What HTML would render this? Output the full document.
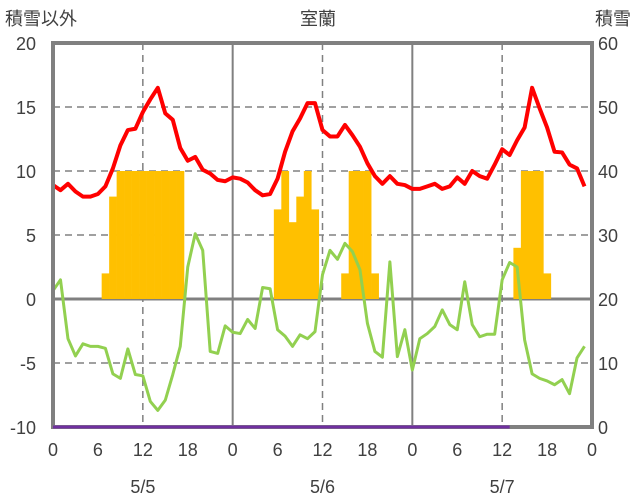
<!DOCTYPE html>
<html><head><meta charset="utf-8"><style>
body{margin:0;background:#fff;}
svg{display:block;font-family:"Liberation Sans","Noto Sans CJK JP",sans-serif;}
</style></head><body>
<svg id="chart" width="636" height="501" viewBox="0 0 636 501">
<text x="5" y="25" font-size="18" fill="#404040">積雪以外</text>
<text x="318" y="25" font-size="18" fill="#404040" text-anchor="middle">室蘭</text>
<text x="631" y="25" font-size="18" fill="#404040" text-anchor="end">積雪</text>
<g id="grid"></g><g id="bars"></g><g id="lines"></g><g id="frame"></g><g id="labels"></g>
</svg>
<script>
const temp=[8.9,8.5,9.0,8.4,8.0,8.0,8.2,8.8,10.2,12.0,13.2,13.3,14.6,15.6,16.5,14.5,14.0,11.8,10.8,11.1,10.1,9.8,9.3,9.2,
9.5,9.4,9.1,8.5,8.1,8.2,9.4,11.5,13.1,14.1,15.3,15.3,13.2,12.7,12.7,13.6,12.8,11.9,10.6,9.6,9.0,9.6,9.0,8.9,
8.6,8.6,8.8,9.0,8.6,8.8,9.5,9.0,10.0,9.6,9.4,10.5,11.7,11.25,12.4,13.4,16.5,14.9,13.4,11.5,11.45,10.5,10.2,8.8];
const other=[0.65,1.5,-3.1,-4.45,-3.5,-3.7,-3.7,-3.85,-5.85,-6.2,-3.9,-5.9,-6.0,-8.0,-8.7,-7.9,-5.9,-3.7,2.5,5.1,3.8,-4.1,-4.25,-2.1,
-2.6,-2.7,-1.6,-2.3,0.9,0.8,-2.4,-2.9,-3.7,-2.8,-3.1,-2.55,1.9,3.8,3.1,4.35,3.7,2.3,-1.9,-4.1,-4.55,2.9,-4.5,-2.4,
-5.55,-3.1,-2.7,-2.15,-0.85,-2.0,-2.4,1.35,-2.0,-2.95,-2.75,-2.75,1.5,2.85,2.5,-3.2,-5.85,-6.2,-6.4,-6.7,-6.3,-7.4,-4.6,-3.7];
const snowfall=[0,0,0,0,0,0,0,24,36,40,40,40,40,40,40,40,40,40,0,0,0,0,0,0,
0,0,0,0,0,0,34,40,32,36,40,34,0,0,0,24,40,40,40,24,0,0,0,0,
0,0,0,0,0,0,0,0,0,0,0,0,0,0,28,40,40,40,24,0,0,0,0,0];
const snowDepth=[0,0,0,0,0,0,0,0,0,0,0,0,0,0,0,0,0,0,0,0,0,0,0,0,0,0,0,0,0,0,0,0,0,0,0,0,0,0,0,0,0,0,0,0,0,0,0,0,0,0,0,0,0,0,0,0,0,0,0,0,0,0];
const leftTicks=[20,15,10,5,0,-5,-10];
const rightTicks=[60,50,40,30,20,10,0];
const hourTicks=[0,6,12,18,0,6,12,18,0,6,12,18,0];
const dates=["5/5","5/6","5/7"];
const X0=53,X1=592,Y0=43,Y1=427;
const x=h=>X0+h*(X1-X0)/72;
const yL=v=>Y1-(v+10)*(Y1-Y0)/30;
const yR=v=>Y1-v*(Y1-Y0)/60;
const NS="http://www.w3.org/2000/svg";
function mk(p,t,a){const e=document.createElementNS(NS,t);for(const k in a)e.setAttribute(k,a[k]);document.getElementById(p).appendChild(e);return e;}
// grid
leftTicks.forEach(v=>{if(v===20||v===-10)return;
 const l=mk('grid','line',{x1:X0,x2:X1,y1:yL(v),y2:yL(v),stroke:v===0?'#808080':'#808080','stroke-width':v===0?3:1.5,'stroke-dasharray':v===0?'':'7,5'});
 
 });
for(let h=12;h<72;h+=12){const solid=h%24===0;
 const l=mk('grid','line',{x1:x(h),x2:x(h),y1:Y0,y2:Y1,stroke:'#808080','stroke-width':solid?2:1.5,'stroke-dasharray':solid?'':'7,5'});
 
 }
// bars
const bw=(X1-X0)/72;
snowfall.forEach((v,i)=>{if(!v)return;
 const r=mk('bars','rect',{x:x(i)-bw/2,y:yR(v),width:bw+0.3,height:yL(0)-yR(v),fill:'#FFC000'});
 
 });
function line(arr,f,col,w,name){const pts=arr.map((v,i)=>x(i)+','+f(v)).join(' ');
 const p=mk('lines','polyline',{points:pts,fill:'none',stroke:col,'stroke-width':w,'stroke-linejoin':'round'});
 
 }
line(other,yL,'#92D050',3,'other-line');
line(temp,yL,'#FF0000',4,'temperature-line');
// frame
const fr=mk('frame','rect',{x:X0,y:Y0,width:X1-X0,height:Y1-Y0,fill:'none',stroke:'#808080','stroke-width':4});


line(snowDepth,yR,'#7030A0',3,'snow-depth-line');
document.getElementById('lines').parentNode.appendChild(document.getElementById('lines').lastChild);
// labels
leftTicks.forEach(v=>{const t=mk('labels','text',{x:36,y:yL(v)+7,'font-size':18,fill:'#404040','text-anchor':'end'});t.textContent=v;
 
 });
rightTicks.forEach(v=>{const t=mk('labels','text',{x:598,y:yR(v)+7,'font-size':18,fill:'#404040'});t.textContent=v;
 
 });
hourTicks.forEach((v,i)=>{const t=mk('labels','text',{x:x(i*6),y:456,'font-size':18,fill:'#404040','text-anchor':'middle'});t.textContent=v;
 
 });
dates.forEach((v,i)=>{const t=mk('labels','text',{x:x(i*24+12),y:493,'font-size':18,fill:'#404040','text-anchor':'middle'});t.textContent=v;
 
 });
</script>
</body></html>
